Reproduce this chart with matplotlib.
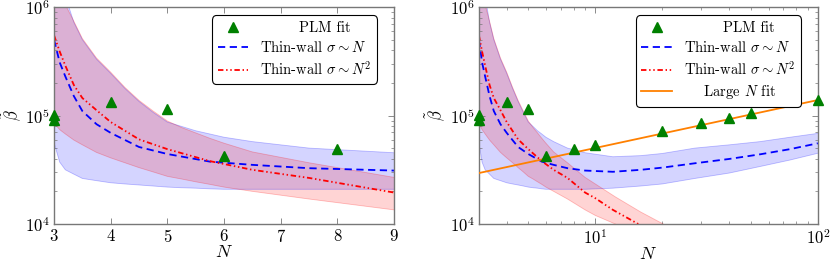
import numpy as np
import matplotlib
matplotlib.use("Agg")
import matplotlib.pyplot as plt
from matplotlib.ticker import LogLocator, FixedLocator, NullFormatter

plt.rcParams['font.family'] = 'serif'
plt.rcParams['font.serif'] = ['cmr10', 'DejaVu Serif']
plt.rcParams['mathtext.fontset'] = 'cm'
plt.rcParams['axes.formatter.use_mathtext'] = True

# PLM fit points
n_plm = [3, 3, 4, 5, 6, 8, 10, 20, 30, 40, 50, 100]
beta_plm = [1.01e5, 9.1e4, 1.32e5, 1.14e5, 4.24e4, 4.9e4, 5.4e4, 7.2e4, 8.5e4, 9.5e4, 1.05e5, 1.39e5]
n_plm_left = [3, 3, 4, 5, 6, 8]
beta_plm_left = [1.01e5, 9.1e4, 1.32e5, 1.14e5, 4.24e4, 4.9e4]

# thin-wall sigma ~ N (central curve)
n_blue = [3.0, 3.1, 3.2, 3.35, 3.5, 3.75, 4.0, 4.5, 5.0, 5.75, 6.5, 7.5, 9.0,
          12, 16, 20, 28, 40, 55, 75, 100]
beta_blue = [5.0e5, 3.09e5, 2.29e5, 1.51e5, 1.10e5, 8.32e4, 6.92e4, 5.13e4, 4.42e4,
             3.76e4, 3.51e4, 3.27e4, 3.11e4, 3.03e4, 3.16e4, 3.31e4, 3.63e4, 3.98e4,
             4.39e4, 4.90e4, 5.55e4]
# band
n_blue_band = [3.0, 3.1, 3.2, 3.35, 3.5, 3.75, 4.0, 4.25, 4.5, 4.75, 5.0, 5.25, 5.5,
               5.75, 6.0, 6.5, 7.5, 9.0, 12, 16, 20, 28, 40, 55, 75, 100]
blue_hi = [1e7, 3.16e6, 1.26e6, 7.24e5, 5.01e5, 3.31e5, 2.45e5, 1.78e5, 1.35e5, 1.07e5,
           8.71e4, 7.94e4, 7.24e4, 6.76e4, 6.31e4, 5.75e4, 5.01e4, 4.54e4, 4.17e4,
           4.27e4, 4.47e4, 5.01e4, 5.37e4, 5.75e4, 6.31e4, 6.85e4]
blue_lo = [5.62e4, 3.72e4, 3.16e4, 2.88e4, 2.63e4, 2.51e4, 2.40e4, 2.34e4, 2.29e4, 2.24e4,
           2.19e4, 2.16e4, 2.14e4, 2.11e4, 2.09e4, 2.09e4, 2.09e4, 2.09e4, 2.14e4,
           2.24e4, 2.34e4, 2.63e4, 2.95e4, 3.39e4, 3.89e4, 4.49e4]

# thin-wall sigma ~ N^2
n_red = [3.0, 3.1, 3.2, 3.35, 3.5, 3.75, 4.0, 4.5, 5.0, 5.75, 6.5, 7.5, 9.0,
         10, 12, 15.6, 20]
beta_red = [5.5e5, 3.89e5, 2.88e5, 1.91e5, 1.45e5, 1.12e5, 8.71e4, 6.03e4, 4.90e4,
            3.80e4, 3.16e4, 2.66e4, 1.95e4, 1.73e4, 1.35e4, 1.0e4, 7.41e3]
n_red_band = [3.0, 3.1, 3.2, 3.35, 3.5, 3.75, 4.0, 4.25, 4.5, 4.75, 5.0, 5.25, 5.5,
              5.75, 6.0, 6.5, 7.5, 9.0, 10, 12.3, 16, 20.2, 25]
red_hi = [3.16e7, 3.98e6, 1.05e6, 7.41e5, 5.13e5, 3.39e5, 2.51e5, 1.82e5, 1.38e5, 1.10e5,
          8.91e4, 7.76e4, 6.92e4, 6.17e4, 5.56e4, 4.62e4, 3.67e4, 2.69e4, 2.34e4,
          1.78e4, 1.29e4, 1.0e4, 7.76e3]
red_lo = [8.51e4, 7.41e4, 6.76e4, 5.94e4, 5.37e4, 4.57e4, 4.07e4, 3.67e4, 3.31e4, 3.02e4,
          2.75e4, 2.60e4, 2.45e4, 2.32e4, 2.19e4, 2.0e4, 1.70e4, 1.35e4, 1.20e4,
          1.0e4, 7.59e3, 5.89e3, 4.79e3]

# large N fit (straight line in log-log)
n_large = [3, 100]
beta_large = [2.95e4, 1.39e5]

BLUE = '#0000ff'
RED = '#ff0000'
GREEN = '#008000'
ORANGE = '#ff8000'
GREY = '#777777'

fig = plt.figure(figsize=(8.3, 2.62), dpi=100)
ax1 = fig.add_axes([0.0651, 0.145, 0.4096, 0.828])
ax2 = fig.add_axes([0.577, 0.145, 0.4084, 0.828])


def draw(ax, n_pts, b_pts, large):
    ax.set_yscale('log')
    ax.fill_between(n_blue_band, blue_lo, blue_hi, color=BLUE, alpha=0.17, lw=0)
    ax.plot(n_blue_band, blue_hi, color=BLUE, alpha=0.25, lw=0.6)
    ax.plot(n_blue_band, blue_lo, color=BLUE, alpha=0.25, lw=0.6)
    ax.fill_between(n_red_band, red_lo, red_hi, color=RED, alpha=0.17, lw=0)
    ax.plot(n_red_band, red_hi, color=RED, alpha=0.25, lw=0.6)
    ax.plot(n_red_band, red_lo, color=RED, alpha=0.25, lw=0.6)
    ax.plot(n_pts, b_pts, ls='none', marker='^', color=GREEN, ms=7,
            clip_on=False, zorder=5, label='        PLM fit')
    ax.plot(n_blue, beta_blue, color=BLUE, ls=(0, (4, 2.5)), lw=1.3,
            label=r'Thin-wall $\sigma\sim N$')
    ax.plot(n_red, beta_red, color=RED, ls=(0, (3, 1.5, 0.8, 1.5, 0.8, 1.5)), lw=1.3,
            label=r'Thin-wall $\sigma\sim N^2$')
    if large:
        ax.plot(n_large, beta_large, color=ORANGE, lw=1.3, zorder=4,
                label=r'    Large $N$ fit')
    ax.set_ylim(1e4, 1e6)
    ax.yaxis.set_major_locator(LogLocator(base=10, numticks=10))
    ax.yaxis.set_minor_locator(LogLocator(base=10, subs=np.arange(2, 10), numticks=10))
    ax.yaxis.set_minor_formatter(NullFormatter())
    for s in ax.spines.values():
        s.set_color(GREY)
        s.set_linewidth(1.0)
    ax.tick_params(which='both', direction='in', top=True, right=True, color=GREY,
                   labelsize=12, pad=3)
    ax.tick_params(which='major', length=4, width=0.6)
    ax.tick_params(which='minor', length=2.5, width=0.5)
    ax.set_xlabel(r'$N$', fontsize=13, labelpad=-1)
    ax.set_ylabel(r'$\tilde{\beta}$', fontsize=12, labelpad=1)
    leg = ax.legend(loc='upper right', bbox_to_anchor=(0.95, 0.962), fontsize=10.5,
                    frameon=True, fancybox=True, edgecolor='black', framealpha=1,
                    handlelength=2.1, borderaxespad=0, labelspacing=0.35,
                    borderpad=0.4, numpoints=1)
    leg.get_frame().set_linewidth(0.8)
    leg.get_frame().set_boxstyle('round', pad=0, rounding_size=0.3)


draw(ax1, n_plm_left, beta_plm_left, False)
ax1.set_xlim(3, 9)
ax1.xaxis.set_major_locator(FixedLocator([3, 4, 5, 6, 7, 8, 9]))

draw(ax2, n_plm, beta_plm, True)
ax2.set_xscale('log')
ax2.set_xlim(3, 100)
ax2.xaxis.set_major_locator(LogLocator(base=10, numticks=10))
ax2.xaxis.set_minor_locator(LogLocator(base=10, subs=np.arange(2, 10), numticks=10))
ax2.xaxis.set_minor_formatter(NullFormatter())

fig.savefig('out.png', dpi=100)
